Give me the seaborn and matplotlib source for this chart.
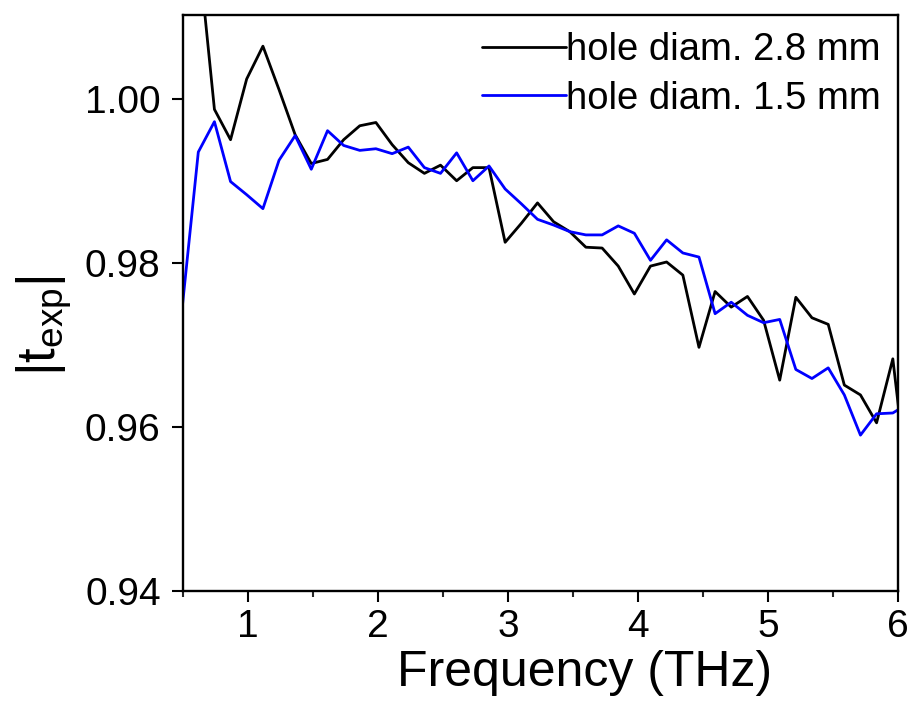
import numpy as np
import pandas as pd
import matplotlib
matplotlib.use('Agg')
import matplotlib.pyplot as plt
import seaborn as sns
from matplotlib.ticker import MultipleLocator

# data (|t_exp| vs frequency)
freq = [0.494, 0.618, 0.742, 0.866, 0.990, 1.115, 1.239, 1.363, 1.487, 1.612,
        1.736, 1.860, 1.984, 2.109, 2.233, 2.357, 2.481, 2.605, 2.730, 2.854,
        2.978, 3.102, 3.227, 3.351, 3.475, 3.599, 3.724, 3.848, 3.972, 4.096,
        4.220, 4.345, 4.469, 4.593, 4.717, 4.842, 4.966, 5.090, 5.214, 5.338,
        5.463, 5.587, 5.711, 5.835, 5.960, 6.084]

t_28mm = [1.0250, 1.0182, 0.9987, 0.9950, 1.0024, 1.0064, 1.0011, 0.9956, 0.9921, 0.9926,
          0.9950, 0.9967, 0.9971, 0.9944, 0.9922, 0.9909, 0.9919, 0.9900, 0.9916, 0.9916,
          0.9825, 0.9848, 0.9873, 0.9850, 0.9838, 0.9819, 0.9818, 0.9796, 0.9762, 0.9796,
          0.9801, 0.9785, 0.9697, 0.9765, 0.9746, 0.9759, 0.9730, 0.9657, 0.9758, 0.9733,
          0.9725, 0.9651, 0.9639, 0.9605, 0.9683, 0.9515]

t_15mm = [0.9745, 0.9935, 0.9972, 0.9899, 0.9883, 0.9866, 0.9925, 0.9955, 0.9914, 0.9961,
          0.9943, 0.9937, 0.9939, 0.9933, 0.9941, 0.9916, 0.9909, 0.9934, 0.9900, 0.9918,
          0.9890, 0.9872, 0.9853, 0.9846, 0.9838, 0.9834, 0.9834, 0.9845, 0.9836, 0.9803,
          0.9828, 0.9812, 0.9807, 0.9738, 0.9752, 0.9736, 0.9727, 0.9731, 0.9670, 0.9659,
          0.9672, 0.9639, 0.9590, 0.9616, 0.9617, 0.9629]

labels = ['hole diam. 2.8 mm', 'hole diam. 1.5 mm']
colors = ['#000000', '#0000FF']

df = pd.concat([
    pd.DataFrame({'freq': freq, 't': t_28mm, 'sample': labels[0]}),
    pd.DataFrame({'freq': freq, 't': t_15mm, 'sample': labels[1]}),
])

sns.set_style('ticks')
plt.rcParams['font.family'] = ['Liberation Sans', 'DejaVu Sans']
plt.rcParams['mathtext.fontset'] = 'custom'
plt.rcParams['mathtext.rm'] = 'Liberation Sans'
plt.rcParams['mathtext.it'] = 'Liberation Sans'
plt.rcParams['text.color'] = 'black'
plt.rcParams['axes.labelcolor'] = 'black'

fig = plt.figure(figsize=(9.13, 7.07), dpi=100)
ax = fig.add_axes([0.2004, 0.164, 0.7832, 0.8148])

sns.lineplot(data=df, x='freq', y='t', hue='sample', palette=dict(zip(labels, colors)),
             linewidth=2.0, ax=ax, estimator=None, sort=False)

ax.set_xlim(0.5, 6.0)
ax.set_ylim(0.94, 1.0102)
ax.set_xticks([1, 2, 3, 4, 5, 6])
ax.xaxis.set_minor_locator(MultipleLocator(0.5))
ax.set_yticks([0.94, 0.96, 0.98, 1.00])
ax.set_yticklabels(['0.94', '0.96', '0.98', '1.00'])

ax.tick_params(axis='both', which='major', direction='out', length=8, width=1.5,
               labelsize=28, colors='black', pad=8)
ax.tick_params(axis='x', which='major', pad=5)
ax.tick_params(axis='x', which='minor', direction='out', length=4.5, width=1.5)
for s in ax.spines.values():
    s.set_visible(True)
    s.set_linewidth(1.7)
    s.set_color('black')

ax.set_xlabel('Frequency (THz)', fontsize=36)
ax.xaxis.set_label_coords(0.561, -0.102)
ax.set_ylabel(r'|t$_{\mathrm{exp}}$|', fontsize=38)
ax.yaxis.set_label_coords(-0.152, 0.46)

leg = ax.legend(loc='upper right', frameon=False, fontsize=27.5, handlelength=2.2,
                handletextpad=0.0, labelspacing=0.33, borderaxespad=0.15, borderpad=0.3)
for line in leg.get_lines():
    line.set_linewidth(2.0)

fig.savefig('out.png', dpi=100)
